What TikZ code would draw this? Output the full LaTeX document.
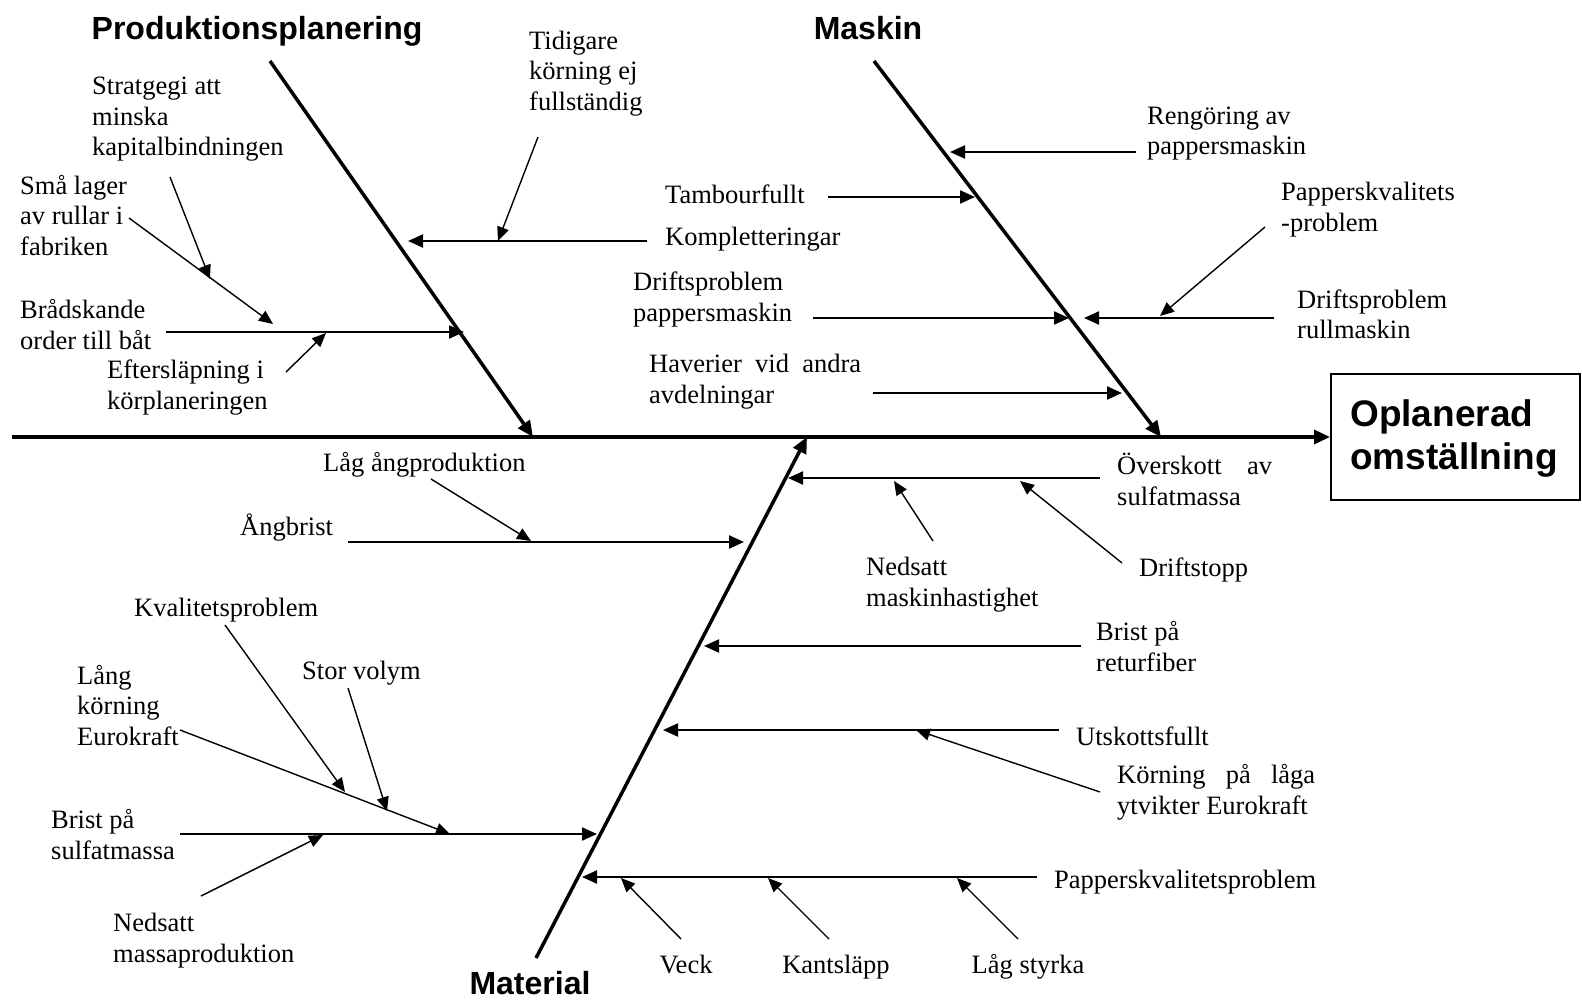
\documentclass[tikz,border=0pt]{standalone}
\usepackage{fontspec}
\setmainfont{Liberation Serif}
\newfontfamily\headfont{Liberation Sans}
\usetikzlibrary{arrows.meta}
\begin{document}
\begin{tikzpicture}[x=1pt,y=-1pt,
  lbl/.style={font=\fontsize{26.5}{30.5}\selectfont, inner sep=0pt, anchor=west, align=left, yshift=-2.5pt},
  lblc/.style={font=\fontsize{26.5}{30.5}\selectfont, inner sep=0pt, anchor=base},
  head/.style={font=\headfont\bfseries\fontsize{32}{36}\selectfont, inner sep=0pt, anchor=base},
  bone/.style={line width=3.5pt, -{Triangle[length=16pt,width=14pt]}},
  branch/.style={line width=2.2pt, -{Triangle[length=15pt,width=13pt]}},
  subarr/.style={line width=1.4pt, -{Triangle[length=14pt,width=12pt]}},
]
\useasboundingbox (0,0) rectangle (1582,1001);

% ---- effect box and spine
\node[draw, line width=2pt, minimum width=249pt, minimum height=126pt, inner sep=0pt] (box) at (1455.5,437) {};
\node[font=\headfont\bfseries\fontsize{37}{43}\selectfont, inner sep=0pt, anchor=west, align=left] (boxtxt) at (1350,439) {Oplanerad\\omställning};
\coordinate (spineL) at (12,437);
\draw[bone] (spineL) -- (box.west);

% ---- headings
\node[head] (hProd) at (257,39.5) {Produktionsplanering};
\node[head] (hMask) at (868,39.5) {Maskin};
\node[head] (hMat) at (530,994) {Material};

% ---- bones
\coordinate (pTop) at (270,61);  \coordinate (pEnd) at (533,437);
\coordinate (mTop) at (874,61);  \coordinate (mEnd) at (1161,437);
\coordinate (tBot) at (536,958); \coordinate (tEnd) at (807,437);
\draw[bone] (pTop) -- (pEnd);
\draw[bone] (mTop) -- (mEnd);
\draw[bone] (tBot) -- (tEnd);

% ---- Produktionsplanering labels
\node[lbl] (tidigare) at (529,71) {Tidigare\\körning ej\\fullständig};
\node[lbl] (strat) at (92,117) {Stratgegi att\\minska\\kapitalbindningen};
\node[lbl] (smalager) at (20,213) {Små lager\\av rullar i\\fabriken};
\node[lbl] (brad) at (20,322) {Brådskande\\order till båt};
\node[lbl] (efter) at (107,385) {Eftersläpning i\\körplaneringen};
\node[lbl] (komp) at (665,237) {Kompletteringar};

\coordinate (kompS) at (647,241);  \coordinate (kompE) at (408,241);
\coordinate (tidS) at (538,137);   \coordinate (tidE) at (498,241);
\coordinate (bradS) at (166,332);  \coordinate (bradE) at (464,332);
\coordinate (smaS) at (129,218);   \coordinate (smaE) at (273,324);
\coordinate (strS) at (170,177);   \coordinate (strE) at (210,279);
\coordinate (effS) at (286,372);   \coordinate (effE) at (326,333);
\draw[branch] (kompS) -- (kompE);
\draw[subarr] (tidS) -- (tidE);
\draw[branch] (bradS) -- (bradE);
\draw[subarr] (smaS) -- (smaE);
\draw[subarr] (strS) -- (strE);
\draw[subarr] (effS) -- (effE);

% ---- Maskin labels
\node[lbl] (reng) at (1147,131) {Rengöring av\\pappersmaskin};
\node[lbl] (tamb) at (665,192) {Tambourfullt};
\node[lbl] (papkv) at (1281,207) {Papperskvalitets\\-problem};
\node[lbl] (dpm) at (633,297) {Driftsproblem\\pappersmaskin};
\node[lbl] (drm) at (1297,312) {Driftsproblem\\rullmaskin};
\node[lbl] (hav) at (649,379) {\makebox[212pt][s]{Haverier vid andra}\\avdelningar};

\coordinate (rengS) at (1136,152); \coordinate (rengE) at (950,152);
\coordinate (tambS) at (828,197);  \coordinate (tambE) at (975,197);
\coordinate (dpmS) at (813,318);   \coordinate (dpmE) at (1069,318);
\coordinate (drmS) at (1274,318);  \coordinate (drmE) at (1084,318);
\coordinate (pkS) at (1265,227);   \coordinate (pkE) at (1160,316);
\coordinate (havS) at (873,393);   \coordinate (havE) at (1122,393);
\draw[branch] (rengS) -- (rengE);
\draw[branch] (tambS) -- (tambE);
\draw[branch] (dpmS) -- (dpmE);
\draw[branch] (drmS) -- (drmE);
\draw[subarr] (pkS) -- (pkE);
\draw[branch] (havS) -- (havE);

% ---- Material, left side
\node[lbl] (lagang) at (323,462) {Låg ångproduktion};
\node[lbl] (angb) at (240,525) {Ångbrist};
\node[lbl] (kval) at (134,608) {Kvalitetsproblem};
\node[lbl] (storv) at (302,671) {Stor volym};
\node[lbl] (langk) at (77,703) {Lång\\körning\\Eurokraft};
\node[lbl] (bsulf) at (51,832) {Brist på\\sulfatmassa};
\node[lbl] (nmassa) at (113,938) {Nedsatt\\massaproduktion};

\coordinate (angS) at (348,542);   \coordinate (angE) at (744,542);
\coordinate (lagS) at (431,479);   \coordinate (lagE) at (531,541);
\coordinate (bsS) at (180,834);    \coordinate (bsE) at (597,834);
\coordinate (nmS) at (201,896);    \coordinate (nmE) at (323,835);
\coordinate (lkS) at (180,730);    \coordinate (lkE) at (450,834);
\coordinate (kvS) at (225,625);    \coordinate (kvE) at (345,792);
\coordinate (svS) at (348,688);    \coordinate (svE) at (387,811);
\draw[branch] (angS) -- (angE);
\draw[subarr] (lagS) -- (lagE);
\draw[branch] (bsS) -- (bsE);
\draw[subarr] (nmS) -- (nmE);
\draw[subarr] (lkS) -- (lkE);
\draw[subarr] (kvS) -- (kvE);
\draw[subarr] (svS) -- (svE);

% ---- Material, right side
\node[lbl] (oversk) at (1117,477) {\makebox[155pt][s]{Överskott av}\\sulfatmassa};
\node[lbl] (nmask) at (866,582) {Nedsatt\\maskinhastighet};
\node[lbl] (dstopp) at (1139,567) {Driftstopp};
\node[lbl] (bretur) at (1096,644) {Brist på\\returfiber};
\node[lbl] (utsk) at (1076,734) {Utskottsfullt};
\node[lbl] (korn) at (1117,790) {\makebox[198pt][s]{Körning på låga}\\ytvikter Eurokraft};
\node[lbl] (pkprob) at (1054,880) {Papperskvalitetsproblem};
\node[lblc] (veck) at (686,973) {Veck};
\node[lblc] (kant) at (836,973) {Kantsläpp};
\node[lblc] (lagst) at (1028,973) {Låg styrka};

\coordinate (ovS) at (1100,478);   \coordinate (ovE) at (788,478);
\coordinate (nmkS) at (933,541);   \coordinate (nmkE) at (894,481);
\coordinate (dsS) at (1122,563);   \coordinate (dsE) at (1020,481);
\coordinate (brS) at (1081,646);   \coordinate (brE) at (704,646);
\coordinate (utS) at (1059,730);   \coordinate (utE) at (663,730);
\coordinate (koS) at (1100,792);   \coordinate (koE) at (916,730);
\coordinate (ppS) at (1037,877);   \coordinate (ppE) at (582,877);
\coordinate (veS) at (681,939);    \coordinate (veE) at (621,878);
\coordinate (kaS) at (829,939);    \coordinate (kaE) at (768,878);
\coordinate (lsS) at (1018,939);   \coordinate (lsE) at (957,878);
\draw[branch] (ovS) -- (ovE);
\draw[subarr] (nmkS) -- (nmkE);
\draw[subarr] (dsS) -- (dsE);
\draw[branch] (brS) -- (brE);
\draw[branch] (utS) -- (utE);
\draw[subarr] (koS) -- (koE);
\draw[branch] (ppS) -- (ppE);
\draw[subarr] (veS) -- (veE);
\draw[subarr] (kaS) -- (kaE);
\draw[subarr] (lsS) -- (lsE);
\end{tikzpicture}
\end{document}
